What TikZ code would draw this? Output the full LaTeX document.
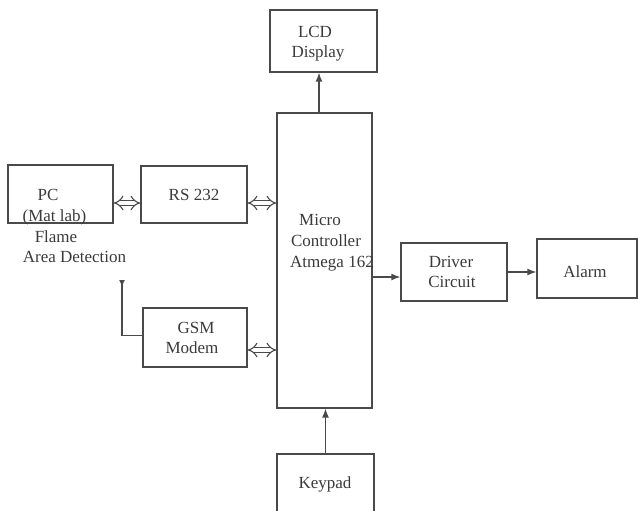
\documentclass[tikz,border=0pt]{standalone}
\usepackage{fontspec}
\setmainfont{Liberation Serif}
\usetikzlibrary{arrows.meta}
\definecolor{ln}{HTML}{4A4A4A}
\definecolor{tx}{HTML}{3A3A3A}
\tikzset{
  box/.style={draw=ln, line width=1.3pt, inner sep=0pt},
  lbl/.style={text=tx, font=\fontsize{17}{20}\selectfont, inner sep=0pt, text height=12pt, text depth=1pt},
  arr/.style={draw=ln, line width=1.3pt, -{Latex[length=9pt,width=7pt]}},
  dbl/.style={draw=ln, line width=1.1pt, double=white, double distance=4pt, {Implies[length=5pt]}-{Implies[length=5pt]}},
}
\begin{document}
\begin{tikzpicture}[x=1pt,y=-1pt]
\useasboundingbox (0,0) rectangle (638,511);
\clip (0,0) rectangle (638,511);
% boxes
\node[box, minimum width=105pt, minimum height=58pt] (pc) at (60.5,194) {};
\node[box, minimum width=106pt, minimum height=57pt] (rs) at (194,194.5) {};
\node[box, minimum width=104pt, minimum height=59pt] (gsm) at (195,337.5) {};
\node[box, minimum width=95pt, minimum height=295pt] (mc) at (324.5,260.5) {};
\node[box, minimum width=107pt, minimum height=62pt] (lcd) at (323.5,41) {};
\node[box, minimum width=106pt, minimum height=58pt] (drv) at (454,272) {};
\node[box, minimum width=100pt, minimum height=59pt] (alarm) at (587,268.5) {};
\node[box, minimum width=97pt, minimum height=70pt] (key) at (325.5,489) {};
% labels
\node[lbl] (t1) at (48,195) {PC};
\node[lbl] (t2) at (54.5,216) {(Mat lab)};
\node[lbl] (t3) at (56,237) {Flame};
\node[lbl] (t4) at (74.5,257) {Area Detection};
\node[lbl] (t5) at (194,195) {RS 232};
\node[lbl] (t6) at (196,328) {GSM};
\node[lbl] (t7) at (192,348) {Modem};
\node[lbl] (t8) at (315,32) {LCD};
\node[lbl] (t9) at (318,52) {Display};
\node[lbl] (t10) at (320,220) {Micro};
\node[lbl] (t11) at (326,241) {Controller};
\node[lbl] (t12) at (332,262) {Atmega 162};
\node[lbl] (t13) at (451,262) {Driver};
\node[lbl] (t14) at (452,282) {Circuit};
\node[lbl] (t15) at (585,272) {Alarm};
\node[lbl] (t16) at (325,483) {Keypad};
% connectors
\draw[arr] ([xshift=-5.5pt]mc.north) -- ([xshift=-5.5pt]mc.north |- lcd.south);
\draw[arr] (key.north) -- (key.north |- mc.south);
\draw[arr] ([yshift=-5pt]drv.west -| mc.east) -- ([yshift=-5pt]drv.west);
\draw[arr] (drv.east) -- (drv.east -| alarm.west);
\draw[dbl] ([yshift=-9pt]pc.east) -- ([yshift=-9pt]pc.east -| rs.west);
\draw[dbl] ([yshift=-8.5pt]rs.east) -- ([yshift=-8.5pt]rs.east -| mc.west);
\draw[dbl] ([yshift=-12.5pt]gsm.east) -- ([yshift=-12.5pt]gsm.east -| mc.west);
\coordinate (ant) at (122,280);
\draw[draw=ln, line width=1.3pt, -{Latex[reversed,length=7pt,width=6pt]}] ([yshift=2pt]gsm.west) -| (ant);
\end{tikzpicture}
\end{document}
